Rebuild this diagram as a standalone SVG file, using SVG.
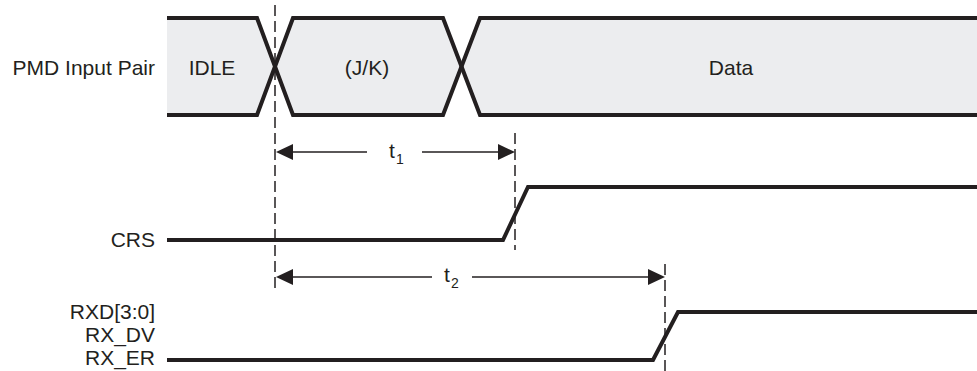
<svg xmlns="http://www.w3.org/2000/svg" width="977" height="371" viewBox="0 0 977 371">
<style>
  text { font-family: "Liberation Sans", Arial, sans-serif; font-size: 21px; fill: #231F20; }
  .sub { font-size: 14px; }
  .fill { fill: #ECEDEF; stroke: none; }
  .sig { fill: none; stroke: #231F20; stroke-width: 4; stroke-linejoin: miter; }
  .dash { stroke: #231F20; stroke-width: 1.5; stroke-dasharray: 11 5; fill: none; }
  .dim { stroke: #231F20; stroke-width: 1.4; fill: none; }
  .head { fill: #231F20; }
</style>
<g id="labels">
  <text x="155" y="75" text-anchor="end">PMD Input Pair</text>
  <text x="155" y="247" text-anchor="end">CRS</text>
  <text x="155" y="319" text-anchor="end">RXD[3:0]</text>
  <text x="155" y="342" text-anchor="end">RX_DV</text>
  <text x="155" y="365" text-anchor="end">RX_ER</text>
</g>
<g id="pmd-bus">
  <polygon class="fill" points="167,18 257,18 275,66.5 257,115 167,115"/>
  <polygon class="fill" points="275,66.5 293,18 443,18 462,66.5 443,115 293,115"/>
  <polygon class="fill" points="462,66.5 480,18 977,18 977,115 480,115"/>
  <polyline class="sig" points="167,18 257,18 293,115 443,115 480,18 977,18"/>
  <polyline class="sig" points="167,115 257,115 293,18 443,18 480,115 977,115"/>
  <text x="212" y="75" text-anchor="middle">IDLE</text>
  <text x="367" y="75" text-anchor="middle">(J/K)</text>
  <text x="731" y="75" text-anchor="middle">Data</text>
</g>
<g id="crs">
  <polyline class="sig" points="167,240 503,240 528,187 977,187"/>
</g>
<g id="rxd">
  <polyline class="sig" points="167,360 653,360 678,312 977,312"/>
</g>
<g id="connectors">
  <line class="dash" x1="275" y1="5" x2="275" y2="292"/>
  <line class="dash" x1="515" y1="133" x2="515" y2="250"/>
  <line class="dash" x1="665" y1="264" x2="665" y2="371"/>
  <line class="dim" x1="290" y1="152" x2="367" y2="152"/>
  <line class="dim" x1="422" y1="152" x2="500" y2="152"/>
  <polygon class="head" points="276,152 293,144 293,160"/>
  <polygon class="head" points="515,152 498,144 498,160"/>
  <line class="dim" x1="290" y1="277" x2="432" y2="277"/>
  <line class="dim" x1="472" y1="277" x2="650" y2="277"/>
  <polygon class="head" points="276,277 293,269 293,285"/>
  <polygon class="head" points="665,277 648,269 648,285"/>
</g>
<g id="t1">
  <text x="389" y="158">t</text>
  <text class="sub" x="396" y="164">1</text>
</g>
<g id="t2">
  <text x="444" y="282">t</text>
  <text class="sub" x="451" y="288">2</text>
</g>
</svg>
